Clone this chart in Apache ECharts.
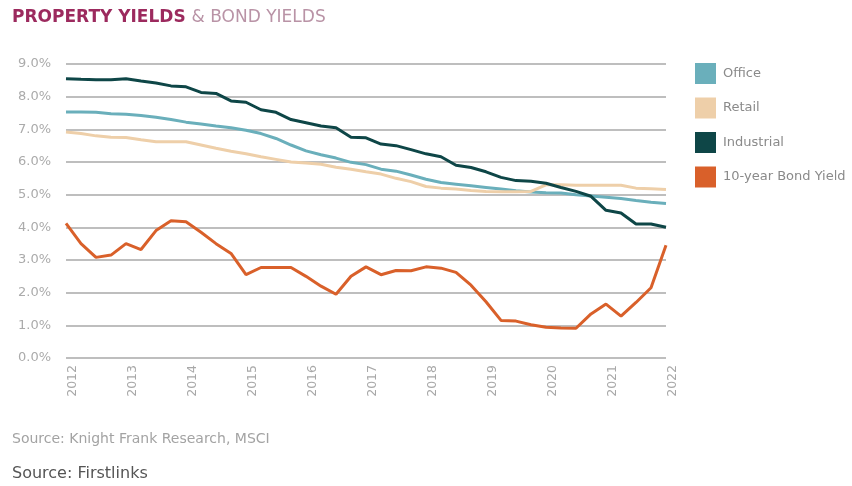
<!DOCTYPE html>
<html>
<head>
<meta charset="utf-8">
<script src="https://cdn.jsdelivr.net/npm/echarts@6/dist/echarts.min.js"></script>
<style>html,body{margin:0;padding:0;background:#fff;}#c{width:852px;height:486px;}</style>
</head>
<body>
<div id="c"></div>
<script>
const years = ['2012','2013','2014','2015','2016','2017','2018','2019','2020','2021','2022'];
const yTicks = [0,1,2,3,4,5,6,7,8,9];
const office = [7.53,7.53,7.52,7.48,7.46,7.42,7.37,7.30,7.22,7.16,7.10,7.05,6.97,6.87,6.72,6.52,6.34,6.22,6.12,5.99,5.92,5.78,5.72,5.60,5.47,5.37,5.32,5.27,5.22,5.17,5.12,5.08,5.06,5.05,5.00,4.96,4.92,4.88,4.82,4.77,4.73];
const retail = [6.92,6.87,6.80,6.76,6.75,6.68,6.62,6.62,6.62,6.52,6.42,6.33,6.25,6.16,6.08,6.00,5.97,5.93,5.84,5.78,5.70,5.63,5.50,5.40,5.25,5.20,5.17,5.13,5.10,5.09,5.09,5.10,5.30,5.30,5.29,5.29,5.29,5.29,5.20,5.18,5.16];
const industrial = [8.55,8.53,8.52,8.52,8.55,8.48,8.42,8.33,8.30,8.13,8.10,7.87,7.83,7.60,7.52,7.30,7.20,7.10,7.05,6.76,6.74,6.55,6.50,6.38,6.25,6.16,5.90,5.83,5.70,5.53,5.43,5.41,5.35,5.22,5.10,4.95,4.52,4.44,4.10,4.10,4.00];
const bond = [4.12,3.50,3.08,3.15,3.50,3.32,3.90,4.20,4.17,3.85,3.50,3.20,2.55,2.77,2.77,2.77,2.50,2.20,1.95,2.50,2.79,2.55,2.68,2.67,2.79,2.75,2.62,2.23,1.72,1.15,1.13,1.02,0.94,0.92,0.91,1.35,1.65,1.28,1.70,2.15,3.45];

const categories = [];
years.forEach((y, i) => {
  if (i < years.length - 1) { for (let q = 1; q <= 4; q++) categories.push(y + ' Q' + q); }
  else categories.push(y + ' Q1');
});

const FONT = 'DejaVu Sans';
const chart = echarts.init(document.getElementById('c'), null, {renderer: 'canvas'});
chart.setOption({
  animation: false,
  backgroundColor: '#fff',
  title: [{
    left: 12, top: 9, padding: 0,
    text: '{a|PROPERTY YIELDS} {b|& BOND YIELDS}',
    textStyle: {
      fontFamily: FONT, fontSize: 17,
      rich: {
        a: {fontFamily: FONT, fontWeight: 'bold', fontSize: 17, color: '#9c2a5e'},
        b: {fontFamily: FONT, fontWeight: 'normal', fontSize: 17, color: '#b993a6'}
      }
    }
  }, {
    left: 12, top: 432, padding: 0,
    text: 'Source: Knight Frank Research, MSCI',
    textStyle: {fontFamily: FONT, fontWeight: 'normal', fontSize: 14, color: '#a3a3a3'}
  }, {
    left: 12, top: 466, padding: 0,
    text: 'Source: Firstlinks',
    textStyle: {fontFamily: FONT, fontWeight: 'normal', fontSize: 16, color: '#555'}
  }],
  legend: {
    orient: 'vertical', left: 695, top: 63, padding: 0,
    icon: 'rect', itemWidth: 21, itemHeight: 21, itemGap: 13.5,
    textStyle: {fontFamily: FONT, fontSize: 13, color: '#8a8a8a', padding: [0,0,0,2]},
    data: ['Office','Retail','Industrial','10-year Bond Yield']
  },
  grid: {left: 66, right: 186, top: 64, bottom: 128, containLabel: false},
  xAxis: {
    type: 'category', data: categories, boundaryGap: false,
    axisLine: {show: false}, axisTick: {show: false},
    axisLabel: {
      rotate: 90, margin: 7, interval: 3, verticalAlign: 'top',
      fontFamily: FONT, fontSize: 12.5, color: '#a8a8a8',
      formatter: v => v.split(' ')[0]
    },
    splitLine: {show: false}
  },
  yAxis: {
    type: 'value', min: 0, max: 9, interval: 1,
    axisLine: {show: false}, axisTick: {show: false},
    axisLabel: {margin: 15, fontFamily: FONT, fontSize: 13, color: '#ababab',
      formatter: v => v.toFixed(1) + '%'},
    splitLine: {lineStyle: {color: '#a9a9a9', width: 1.5}}
  },
  series: [
    {name: 'Office', type: 'line', data: office, showSymbol: false, lineStyle: {width: 3, color: '#6aafbb'}, itemStyle: {color: '#6aafbb'}},
    {name: 'Retail', type: 'line', data: retail, showSymbol: false, lineStyle: {width: 3, color: '#eecfa9'}, itemStyle: {color: '#eecfa9'}},
    {name: 'Industrial', type: 'line', data: industrial, showSymbol: false, lineStyle: {width: 3, color: '#0e4647'}, itemStyle: {color: '#0e4647'}},
    {name: '10-year Bond Yield', type: 'line', data: bond, showSymbol: false, lineStyle: {width: 3, color: '#d9602a'}, itemStyle: {color: '#d9602a'}}
  ]
});
</script>
</body>
</html>
